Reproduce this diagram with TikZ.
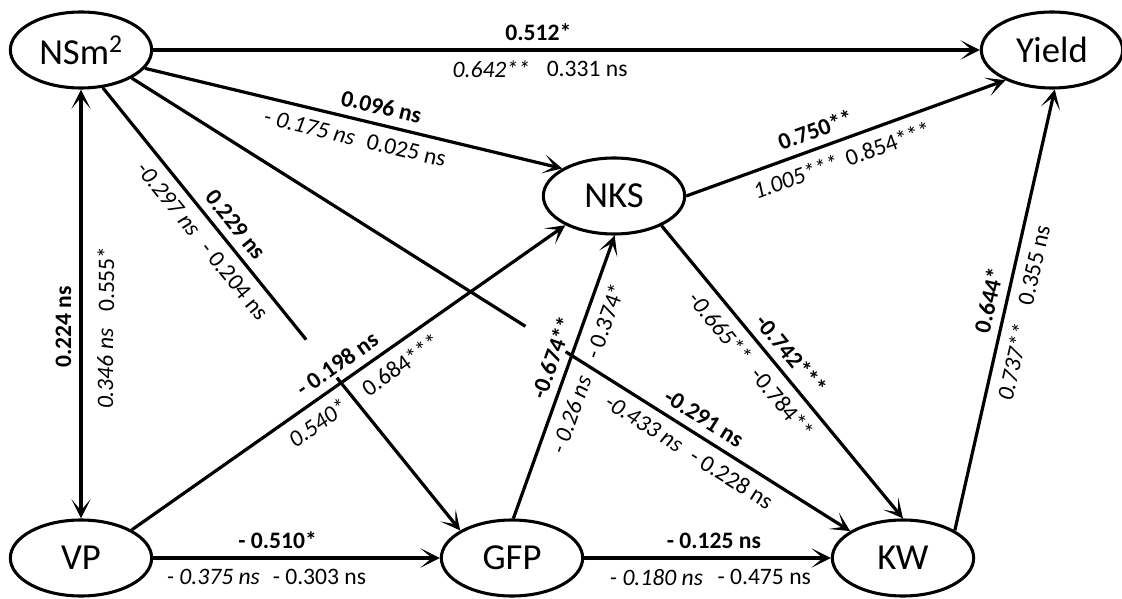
\documentclass[tikz,border=0pt]{standalone}
\usepackage{fontspec}
\setmainfont{Carlito}
\usetikzlibrary{arrows.meta,calc,shapes.geometric}
\begin{document}
\begin{tikzpicture}[x=0.75pt,y=-0.75pt,
  >={Stealth[length=14.5pt,width=14.5pt,inset=8.5pt]},
  var/.style={draw, ellipse, line width=2.3pt, minimum width=106pt,
    minimum height=57pt, inner sep=0pt, font=\fontsize{27.5}{30}\selectfont},
  plain/.style={line width=2.4pt},
  link/.style={plain, ->},
  lbl/.style={sloped, inner sep=0pt, font=\fontsize{17.7}{20}\selectfont},
  lb/.style={lbl, above=6pt, font=\fontsize{17.7}{20}\selectfont\bfseries},
  li/.style={lbl, below=7pt, font=\fontsize{17.7}{20}\selectfont\itshape},
  ln/.style={lbl, below=7pt}]
\useasboundingbox (0,0) rectangle (1122,599);

% variables
\node[var] (nsm)   at (81,50)   {NSm\textsuperscript{2}};
\node[var] (yield) at (1052,50) {Yield};
\node[var] (nks)   at (614,196) {NKS};
\node[var] (vp)    at (81,558)  {VP};
\node[var] (gfp)   at (512,558) {GFP};
\node[var] (kw)    at (903,558) {KW};

% NSm2 -> Yield
\draw[link] (nsm.east) -- (yield.west)
  node[lb, pos=0.466] {0.512*}
  node[li, pos=0.409] {0.642**}
  node[ln, pos=0.525] {0.331 ns};

% NSm2 -> NKS
\draw[link] (nsm.-16) -- (nks.152)
  node[lb, pos=0.557] {0.096 ns}
  node[li, pos=0.405] {- 0.175 ns}
  node[ln, pos=0.637] {0.025 ns};

% NSm2 -> GFP, interrupted where it passes the VP -> NKS label
\coordinate (g1) at ($(nsm.-60)!0.569!(gfp.152)$);
\coordinate (g2) at ($(nsm.-60)!0.655!(gfp.152)$);
\draw[plain] (nsm.-60) -- (g1)
  node[lb, pos=0.587] {0.229 ns}
  node[li, pos=0.395] {-0.297 ns}
  node[ln, pos=0.72]  {- 0.204 ns};
\draw[link] (g2) -- (gfp.152);

% NSm2 -> KW, interrupted where it passes the GFP -> NKS label
\coordinate (k1) at ($(nsm.-29)!0.548!(kw.153)$);
\coordinate (k2) at ($(nsm.-29)!0.604!(kw.153)$);
\draw[plain] (nsm.-29) -- (k1);
\draw[link] (k2) -- (kw.153)
  node[lb, pos=0.453] {-0.291 ns}
  node[li, pos=0.311] {-0.433 ns}
  node[ln, pos=0.619] {- 0.228 ns};

% VP <-> NSm2
\draw[plain, <->] (vp.north) -- (nsm.south)
  node[lb, pos=0.447] {0.224 ns}
  node[li, below=4pt, pos=0.349] {0.346 ns}
  node[ln, below=4pt, pos=0.558] {0.555*};

% VP -> NKS
\draw[link] (vp.29) -- (nks.211)
  node[lb, pos=0.497] {- 0.198 ns}
  node[li, pos=0.403] {0.540*}
  node[ln, pos=0.594] {0.684***};

% VP -> GFP
\draw[link] (vp.east) -- (gfp.west)
  node[lb, pos=0.434] {- 0.510*}
  node[li, pos=0.21]  {- 0.375 ns}
  node[ln, pos=0.58]  {- 0.303 ns};

% GFP -> NKS
\draw[link] (gfp.88) -- (nks.-89)
  node[lb, pos=0.548] {-0.674**}
  node[li, pos=0.39]  {- 0.26 ns}
  node[ln, pos=0.72]  {- 0.374*};

% GFP -> KW
\draw[link] (gfp.east) -- (kw.west)
  node[lb, pos=0.526] {- 0.125 ns}
  node[li, pos=0.293] {- 0.180 ns}
  node[ln, pos=0.73]  {- 0.475 ns};

% NKS -> Yield
\draw[link] (nks.east) -- (yield.213)
  node[lb, pos=0.424] {0.750**}
  node[li, pos=0.322] {1.005***}
  node[ln, pos=0.611] {0.854***};

% NKS -> KW
\draw[link] (nks.-32) -- (kw.north)
  node[lb, pos=0.479] {-0.742***}
  node[li, pos=0.304] {-0.665**}
  node[ln, pos=0.564] {-0.784**};

% KW -> Yield
\draw[link] (kw.28) -- (yield.-86)
  node[lb, pos=0.513] {0.644*}
  node[li, pos=0.391] {0.737**}
  node[ln, pos=0.611] {0.355 ns};
\end{tikzpicture}
\end{document}
